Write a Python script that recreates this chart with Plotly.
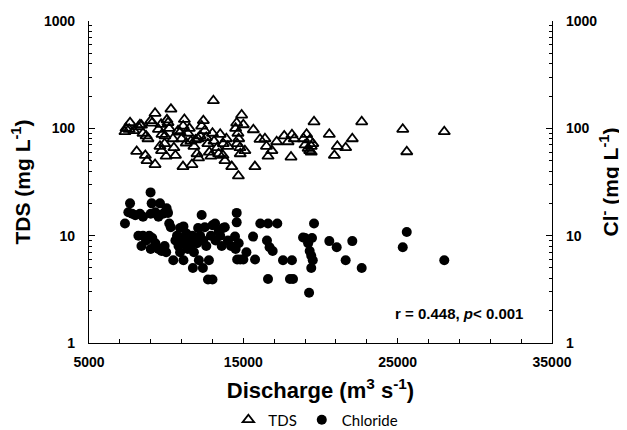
import plotly.graph_objects as go

# TDS (open triangles): discharge (m3/s) and concentration (mg/L)
tds_discharge = [
    7330, 7400, 7660, 7600, 7900, 8090, 8300, 8200, 8500, 8400,
    8650, 8760, 8820, 8700, 9080, 9000, 9280, 9280, 9500, 9670,
    9730, 9920, 9600, 9700, 9900, 10000, 10120, 10050, 10310, 10440,
    10200, 10500, 10600, 10770, 10900, 11000, 11090, 11180, 11100, 11300,
    11410, 11500, 11600, 11670, 11800, 11900, 12060, 12000, 12100, 12200,
    12410, 12300, 12500, 12600, 12700, 12800, 12900, 13060, 13000, 13100,
    13300, 13400, 13500, 13680, 13810, 13700, 13900, 14000, 14250, 14570,
    14500, 14650, 14700, 14780, 14600, 14680, 14800, 14890, 15000, 15100,
    15650, 15750, 16080, 16400, 16500, 16600, 16850, 17160, 17650, 17900,
    18150, 18090, 18300, 18900, 19000, 19100, 19200, 19300, 19400, 19500,
    19580, 19400, 19300, 20570, 20900, 21090, 21630, 22060, 22670, 25330,
    25590, 28020,
]
tds_values = [
    93, 100, 113, 98, 95, 61, 108, 103, 90, 107,
    56, 50, 80, 85, 112, 118, 138, 46, 98, 109,
    88, 85, 68, 62, 72, 55, 113, 120, 151, 80,
    100, 66, 56, 95, 92, 80, 44, 121, 105, 73,
    90, 100, 76, 46, 68, 78, 80, 58, 53, 85,
    118, 105, 95, 82, 72, 60, 55, 181, 90, 76,
    66, 58, 88, 56, 50, 72, 80, 68, 44, 112,
    100, 90, 80, 66, 72, 36, 58, 133, 108, 62,
    97, 44, 79, 80, 68, 55, 62, 75, 85, 75,
    87, 54, 80, 80, 70, 88, 65, 78, 60, 72,
    115, 68, 62, 88, 56, 68, 66, 80, 115, 98,
    60.5, 93,
]

# Chloride (filled circles)
cl_discharge = [
    7330, 7660, 7550, 7800, 8000, 8300, 8500, 8990, 9060, 9600,
    9000, 9300, 9500, 9800, 10030, 10120, 10200, 10300, 8200, 8500,
    8700, 8400, 8900, 9100, 9300, 9000, 9500, 9700, 9900, 10000,
    10460, 10600, 10700, 10800, 10900, 11000, 11120, 11120, 11200, 11300,
    11400, 11500, 11600, 11700, 11730, 11800, 11900, 12000, 12120, 12300,
    12200, 12400, 12500, 12600, 12770, 12380, 12710, 13000, 12900, 13000,
    13200, 13400, 13500, 13600, 13800, 14000, 14200, 14460, 14570, 14570,
    14500, 14600, 14700, 14800, 15000, 15200, 15630, 15760, 16100, 16530,
    16600, 16700, 16900, 16600, 17200, 17570, 18150, 18020, 18220, 18870,
    19000, 19200, 19300, 19450, 19400, 19500, 19400, 19580, 19260, 20570,
    21050, 21630, 22060, 22670, 25330, 25590, 28020, 13170, 13690, 12070,
    10900,
]
cl_values = [
    13, 20, 16.5, 16, 15.5, 16, 15, 25.3, 20, 20,
    16, 16.5, 15, 16, 18, 16.3, 13, 12, 10, 10,
    9, 8, 10, 9.5, 8.5, 7.5, 7.5, 7.2, 8, 7,
    5.9, 9, 10, 8, 7, 9.5, 12.2, 5.9, 8.5, 10.5,
    7.5, 9, 8, 10, 5.0, 7, 9, 8.5, 5.9, 15.6,
    10, 9, 12, 8, 5.9, 5.0, 3.9, 3.9, 10, 12.5,
    9, 11, 10, 8, 12, 9, 8, 9.8, 16.3, 13.3,
    7.5, 6, 8.5, 6, 6, 7, 9.8, 6, 13, 9,
    13, 7.8, 7.2, 3.95, 13, 5.9, 5.9, 3.95, 3.95, 9.6,
    9.5, 8.5, 7.2, 9.5, 6.5, 5.9, 5.0, 13, 2.94, 8.9,
    7.8, 5.9, 8.9, 5.0, 7.8, 10.8, 5.9, 13, 11.8, 11.8,
    11.8,
]

x_tickvals = [5000, 15000, 25000, 35000]
y_tickvals = [1, 10, 100, 1000]
y_minor = [m * 10 ** e for e in range(3) for m in range(2, 10)]

AXIS_FONT = "Liberation Sans, Arial, sans-serif"

fig = go.Figure()

fig.add_trace(go.Scatter(
    x=tds_discharge, y=tds_values,
    mode="markers", name="TDS",
    marker=dict(symbol="triangle-up-open", size=10, color="black",
                line=dict(width=1.8, color="black")),
))
fig.add_trace(go.Scatter(
    x=cl_discharge, y=cl_values,
    mode="markers", name="Chloride", yaxis="y2",
    marker=dict(symbol="circle", size=10, color="black"),
))

yaxis_common = dict(
    type="log",
    range=[0, 3],
    tickvals=y_tickvals,
    ticktext=[str(v) for v in y_tickvals],
    ticks="inside",
    ticklen=6,
    tickcolor="black",
    ticklabelstandoff=10,
    showline=True,
    linecolor="black",
    linewidth=1.3,
    showgrid=False,
    zeroline=False,
    automargin=False,
    tickfont=dict(family=AXIS_FONT, size=14, color="black", weight="bold"),
    minor=dict(tickvals=y_minor, ticks="inside", ticklen=3, tickcolor="black"),
)

# the page body adds an 8px offset, so margins are shifted to compensate
fig.update_layout(
    width=627,
    height=430,
    margin=dict(l=81, r=83, t=13, b=95),
    plot_bgcolor="white",
    paper_bgcolor="white",
    showlegend=True,
    xaxis=dict(
        range=[5000, 35000],
        tickvals=x_tickvals,
        ticktext=[str(v) for v in x_tickvals],
        ticks="inside",
        ticklen=5,
        tickcolor="black",
        ticklabelstandoff=6,
        showline=True,
        linecolor="black",
        linewidth=1.3,
        showgrid=False,
        zeroline=False,
        automargin=False,
        tickfont=dict(family=AXIS_FONT, size=14, color="black", weight="bold"),
        minor=dict(dtick=2000, tick0=5000, ticks="inside", ticklen=4, tickcolor="black"),
        title=dict(
            text="Discharge (m<sup>3</sup> s<sup>-1</sup>)",
            font=dict(family=AXIS_FONT, size=22, color="black", weight="bold"),
            standoff=14,
        ),
    ),
    yaxis=dict(
        **yaxis_common,
        title=dict(
            text="TDS (mg L<sup>-1</sup>)",
            font=dict(family=AXIS_FONT, size=21, color="black", weight="bold"),
            standoff=8,
        ),
    ),
    yaxis2=dict(
        **yaxis_common,
        overlaying="y",
        side="right",
        title=dict(
            text="Cl<sup>-</sup> (mg L<sup>-1</sup>)",
            font=dict(family=AXIS_FONT, size=21, color="black", weight="bold"),
            standoff=6,
        ),
    ),
    legend=dict(
        orientation="h",
        x=0.49,
        xanchor="center",
        yref="container",
        y=0.042,
        yanchor="middle",
        font=dict(family="Lato, sans-serif", size=15, color="black"),
        itemwidth=30,
        tracegroupgap=0,
    ),
    annotations=[
        dict(
            text="r = 0.448, <i>p</i>< 0.001",
            xref="paper", yref="paper",
            x=0.80, y=0.093,
            xanchor="center", yanchor="middle",
            showarrow=False,
            font=dict(family=AXIS_FONT, size=15, color="black", weight="bold"),
        )
    ],
)

fig.write_html("out.html")
